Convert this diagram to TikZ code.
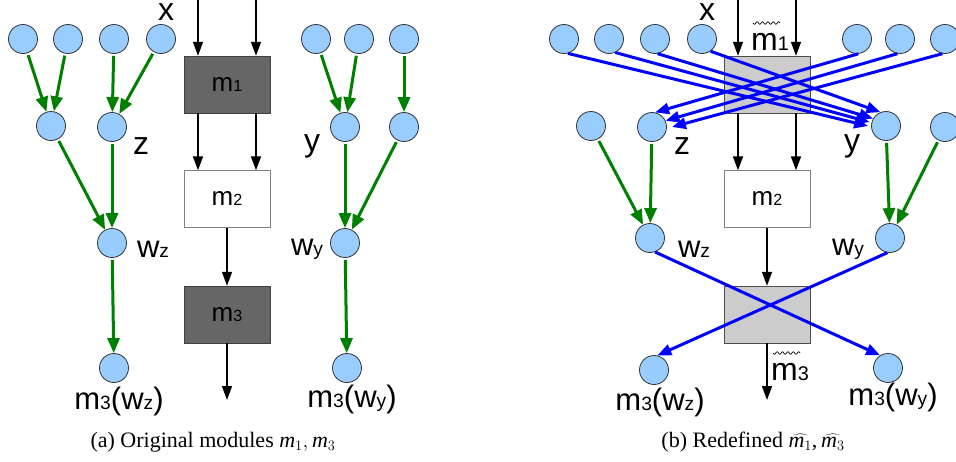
\documentclass[tikz,border=0pt]{standalone}
\usepackage{fontspec}
\usepackage{graphicx}
\setmainfont{Liberation Serif}
\newfontfamily\lsans{Liberation Sans}
\usetikzlibrary{arrows.meta}
\definecolor{nodeblue}{RGB}{153,204,255}
\definecolor{darkbox}{RGB}{102,102,102}
\definecolor{lightbox}{RGB}{204,204,204}
\definecolor{grn}{RGB}{0,128,0}
\newcommand\sbs[1]{\scalebox{0.62}{#1}}
\newcommand\im{\mbox{\itshape m}}
\tikzset{
  circ/.style={circle, draw=black!80, line width=0.8pt, fill=nodeblue, minimum size=29pt, inner sep=0pt},
  bigl/.style={font=\lsans\fontsize{32}{32}\selectfont, inner sep=0pt},
  midl/.style={font=\lsans\fontsize{31}{31}\selectfont, inner sep=0pt},
  modbox/.style={draw, minimum width=86pt, minimum height=57pt, inner sep=0pt, font=\lsans\fontsize{26}{26}\selectfont},
  darkmod/.style={modbox, fill=darkbox, draw=black!75},
  whitemod/.style={modbox, fill=white, draw=black!50},
  lightmod/.style={modbox, fill=lightbox, draw=black!70},
  blk/.style={line width=1.5pt, -{Triangle[length=14pt,width=10pt]}},
  gr/.style={draw=grn, line width=3pt, -{Triangle[length=15pt,width=12pt]}, shorten <=2pt},
  bl/.style={draw=blue, line width=3pt, -{Triangle[length=14pt,width=11pt]}},
  capl/.style={font=\fontsize{22}{22}\selectfont, inner sep=0pt},
  wave/.style={line width=0.7pt}
}
\begin{document}
\begin{tikzpicture}[x=1pt,y=-1pt]
\useasboundingbox (0,0) rectangle (956,461);
% ---------------- left panel ----------------
\node[circ] (L1) at (23,39) {};
\node[circ] (L2) at (68,39) {};
\node[circ] (L3) at (114,39) {};
\node[circ] (L4) at (161,39) {};
\node[circ] (L5) at (316,39) {};
\node[circ] (L6) at (359,39) {};
\node[circ] (L7) at (404,39) {};
\node[circ] (La) at (51,126) {};
\node[circ] (Lz) at (112,127) {};
\node[circ] (Ly) at (345,127) {};
\node[circ] (Lb) at (404,127) {};
\node[circ] (Lwz) at (112,243) {};
\node[circ] (Lwy) at (345,243) {};
\node[circ] (Lmz) at (114,368) {};
\node[circ] (Lmy) at (347,368) {};
\node[bigl] (Lxl) at (166,12) {x};
\node[bigl] (Lzl) at (141,146) {z};
\node[bigl] (Lyl) at (312,146) {y};
\node[midl] (Lwzl) at (153,249) {w\sbs{z}};
\node[midl] (Lwyl) at (307,249) {w\sbs{y}};
\node[midl] (Lmzl) at (119,401) {m\sbs{3}(w\sbs{z})};
\node[midl] (Lmyl) at (352,399) {m\sbs{3}(w\sbs{y})};
\node[darkmod] (Lm1) at (227,84.5) {m\sbs{1}};
\node[whitemod] (Lm2) at (227,199) {m\sbs{2}};
\node[darkmod] (Lm3) at (227,314.5) {m\sbs{3}};
\coordinate (Lin1) at (198,0);
\coordinate (Lin2) at (256,0);
\coordinate (Lout) at (227,400);
\draw[blk] (Lin1) -- (Lin1 |- Lm1.north);
\draw[blk] (Lin2) -- (Lin2 |- Lm1.north);
\draw[blk] (Lm1.south -| Lin1) -- (Lm2.north -| Lin1);
\draw[blk] (Lm1.south -| Lin2) -- (Lm2.north -| Lin2);
\draw[blk] (Lm2) -- (Lm3);
\draw[blk] (Lm3) -- (Lout);
\draw[gr] (L1) -- (La);
\draw[gr] (L2) -- (La);
\draw[gr] (L3) -- (Lz);
\draw[gr] (L4) -- (Lz);
\draw[gr] (L5) -- (Ly);
\draw[gr] (L6) -- (Ly);
\draw[gr] (L7) -- (Lb);
\draw[gr] (La) -- (Lwz);
\draw[gr] (Lz) -- (Lwz);
\draw[gr] (Ly) -- (Lwy);
\draw[gr] (Lb) -- (Lwy);
\draw[gr] (Lwz) -- (Lmz);
\draw[gr] (Lwy) -- (Lmy);
\node[capl] (Lcap) at (213,442) {(a) Original modules \im$_1,$\,\im$_3$};
% ---------------- right panel ----------------
\node[circ] (R1) at (564,39) {};
\node[circ] (R2) at (609,39) {};
\node[circ] (R3) at (655,39) {};
\node[circ] (R4) at (702,39) {};
\node[circ] (R5) at (857,39) {};
\node[circ] (R6) at (900,39) {};
\node[circ] (R7) at (945,39) {};
\node[circ] (Ra) at (591,126) {};
\node[circ] (Rz) at (652,127) {};
\node[circ] (Ry) at (886,126) {};
\node[circ] (Rb) at (945,127) {};
\node[circ] (Rwz) at (650,238) {};
\node[circ] (Rwy) at (890,238) {};
\node[circ] (Rmz) at (654,370) {};
\node[circ] (Rmy) at (888,368) {};
\node[bigl] (Rxl) at (707,12) {x};
\node[bigl] (Rzl) at (682,146) {z};
\node[bigl] (Ryl) at (852,146) {y};
\node[midl] (Rwzl) at (694,249) {w\sbs{z}};
\node[midl] (Rwyl) at (848,249) {w\sbs{y}};
\node[midl] (Rmzl) at (660,402) {m\sbs{3}(w\sbs{z})};
\node[midl] (Rmyl) at (893,397) {m\sbs{3}(w\sbs{y})};
\node[lightmod] (Rm1) at (767,84.5) {};
\node[whitemod] (Rm2) at (767,199) {m\sbs{2}};
\node[lightmod] (Rm3) at (767,314.5) {};
\node[bigl, anchor=base west] (Rm1l) at (751,50) {m\sbs{1}};
\node[bigl, anchor=base west] (Rm3l) at (771,380) {m\sbs{3}};
\draw[wave] plot[domain=0:27, samples=80, smooth] ({753+\x},{23+1.2*sin(\x*66.667)});
\draw[wave] plot[domain=0:27, samples=80, smooth] ({773+\x},{353+1.2*sin(\x*66.667)});
\coordinate (Rin1) at (738,0);
\coordinate (Rin2) at (796,0);
\coordinate (Rout) at (767,400);
\draw[blk] (Rin1) -- (Rin1 |- Rm1.north);
\draw[blk] (Rin2) -- (Rin2 |- Rm1.north);
\draw[blk] (Rm1.south -| Rin1) -- (Rm2.north -| Rin1);
\draw[blk] (Rm1.south -| Rin2) -- (Rm2.north -| Rin2);
\draw[blk] (Rm2) -- (Rm3);
\draw[blk] (Rm3) -- (Rout);
\draw[gr] (Ra) -- (Rwz);
\draw[gr] (Rz) -- (Rwz);
\draw[gr] (Ry) -- (Rwy);
\draw[gr] (Rb) -- (Rwy);
\draw[bl] (R1.-75) -- ([shift={(-3,0)}]Ry.180);
\draw[bl] (R2.-65) -- ([shift={(-2,0)}]Ry.165);
\draw[bl] (R3.-80) -- (Ry.150);
\draw[bl] (R4.-55) -- (Ry.112);
\draw[bl] (R5.-85) -- (Rz.78);
\draw[bl] (R6.-100) -- (Rz.25);
\draw[bl] (R7.-100) -- ([shift={(5,0)}]Rz.0);
\draw[bl] (Rwz.-70) -- (Rmy.122);
\draw[bl] (Rwy.-100) -- (Rmz.77);
\node[capl] (Rcap) at (753,442) {(b) Redefined $\widehat{\im_1}$,\,$\widehat{\im_3}$};
\end{tikzpicture}
\end{document}
